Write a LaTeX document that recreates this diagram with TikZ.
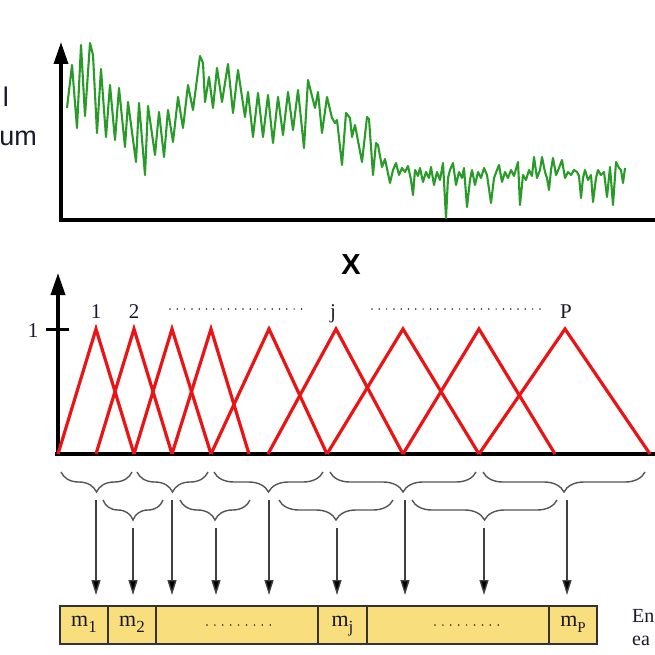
\documentclass[tikz,border=0pt]{standalone}
\usepackage{fontspec}
\setmainfont{Liberation Serif}
\newfontfamily\arialfont{Liberation Sans}
\usetikzlibrary{arrows.meta,decorations.pathreplacing}
\definecolor{sig}{RGB}{40,155,40}
\definecolor{mfred}{RGB}{235,20,20}
\definecolor{cellfill}{RGB}{248,222,125}
\definecolor{bracegray}{RGB}{85,85,85}
\definecolor{txtdark}{RGB}{25,25,45}
\begin{document}
\begin{tikzpicture}[x=1pt,y=-1pt,
 axis/.style={line width=3.5pt, black},
 axisarrow/.style={axis, -{Triangle[length=22pt,width=14pt]}},
 signal/.style={sig, line width=2.1pt, line join=round},
 tri/.style={mfred, line width=3.2pt},
 bracestyle/.style={bracegray, line width=1.4pt, decorate, decoration={brace, mirror, amplitude=20pt}},
 arr/.style={draw=black!75, line width=1.4pt, -{Triangle[length=15pt,width=9pt,fill=black]}},
 cell/.style={draw=black!80, line width=1.4pt, fill=cellfill, minimum height=38pt, inner sep=0pt, text height=12pt, text depth=10pt, font=\fontsize{22}{22}\selectfont, text=txtdark},
 dotsline/.style={black!85, line width=1.7pt, line cap=round, dash pattern=on 0pt off 7.3pt},
 boxdots/.style={black!85, line width=1.7pt, line cap=round, dash pattern=on 0pt off 7.9pt},
 lab/.style={font=\fontsize{21}{21}\selectfont, text=txtdark, inner sep=0pt, anchor=base},
 sidelab/.style={font=\arialfont\fontsize{27}{27}\selectfont, text=txtdark, inner sep=0pt, anchor=base east},
 cutlab/.style={font=\fontsize{20}{20}\selectfont, text=txtdark, inner sep=0pt, anchor=base west}
]
\useasboundingbox (0,0) rectangle (655,655);

% ---------- top plot ----------
\coordinate (o1) at (61,222);
\coordinate (t1) at (61,42);
\coordinate (r1) at (655,220);
\coordinate (l1) at (59,220);
\draw[axisarrow] (o1) -- (t1);
\draw[axis] (l1) -- (r1);

\draw[signal] (67,108) -- (72,65) -- (77,128) -- (81,45) -- (85,116) -- (90,43) -- (93,55) -- (97,133) -- (101,69) -- (106,137) -- (110,85) -- (115,140) -- (119,88) -- (125,147) -- (128,102) -- (136,162) -- (139,103) -- (145,175) -- (148,106) -- (155,155) -- (159,112) -- (164,157) -- (168,110) -- (173,142) -- (178,97) -- (183,128) -- (188,85) -- (193,110) -- (200,56) -- (203,63) -- (205,102) -- (209,77) -- (213,108) -- (217,68) -- (222,102) -- (228,64) -- (233,113) -- (238,70) -- (245,117) -- (248,92) -- (253,137) -- (258,93) -- (263,137) -- (268,95) -- (273,143) -- (278,97) -- (283,135) -- (288,92) -- (293,130) -- (298,90) -- (304,148) -- (308,80) -- (315,108) -- (318,92) -- (322,133) -- (327,97) -- (332,118) -- (335,123) -- (337,120) -- (342,165) -- (346,113) -- (350,118) -- (352,137) -- (355,125) -- (362,162) -- (367,117) -- (369,119) -- (373,175) -- (376,143) -- (378,145) -- (382,167) -- (385,159) -- (390,183) -- (393,170) -- (396,163) -- (399,175) -- (402,168) -- (405,172) -- (408,166) -- (411,180) -- (413,195) -- (415,170) -- (418,176) -- (420,168) -- (423,182) -- (426,172) -- (429,178) -- (431,167) -- (434,185) -- (437,172) -- (440,180) -- (443,163) -- (446,218) -- (448,178) -- (450,170) -- (453,163) -- (456,185) -- (459,172) -- (462,178) -- (464,168) -- (467,207) -- (470,180) -- (472,170) -- (475,185) -- (478,172) -- (481,178) -- (484,168) -- (487,175) -- (491,203) -- (494,178) -- (497,170) -- (499,165) -- (502,182) -- (505,172) -- (508,178) -- (511,170) -- (514,176) -- (518,162) -- (520,205) -- (523,175) -- (526,180) -- (529,170) -- (532,176) -- (534,157) -- (537,178) -- (540,170) -- (542,157) -- (545,172) -- (547,178) -- (549,190) -- (551,170) -- (553,158) -- (556,175) -- (559,168) -- (562,160) -- (565,178) -- (568,172) -- (571,175) -- (574,170) -- (577,172) -- (579,176) -- (581,198) -- (583,178) -- (585,170) -- (588,180) -- (591,175) -- (593,202) -- (596,178) -- (598,170) -- (601,175) -- (604,172) -- (607,197) -- (610,167) -- (613,205) -- (616,162) -- (619,168) -- (621,170) -- (623,183) -- (625,168);

\node[sidelab] (sl1) at (9,107) {l};
\node[sidelab] (sl2) at (37,146) {um};

\node[font=\arialfont\bfseries\fontsize{29}{29}\selectfont, inner sep=0pt, anchor=base] (xlab) at (351,274) {X};

% ---------- membership functions ----------
\coordinate (o2) at (58,456);
\coordinate (t2) at (58,273);
\coordinate (l2) at (55,454);
\coordinate (r2) at (655,454);
\coordinate (tk1) at (46,329);
\coordinate (tk2) at (69,329);
\draw[axisarrow] (o2) -- (t2);
\draw[axis] (l2) -- (r2);
\draw[axis, line width=3pt] (tk1) -- (tk2);
\node[lab] (one) at (33,337) {1};

\foreach \l/\p/\r in {58/96/134, 96/134/172, 134/172/211, 172/211/249, 211/269/327, 268/336/403, 327/403/479, 403/479/555, 479/565/650}
  \draw[tri] (\l,454) -- (\p,329) -- (\r,454);

\node[lab] (n1) at (96,318) {1};
\node[lab] (n2) at (134,318) {2};
\node[lab] (nj) at (333,318) {j};
\node[lab] (nP) at (566,318) {P};
\draw[dotsline] (170,309) -- (302,309);
\draw[dotsline] (372,309) -- (543,309);

% ---------- braces ----------
\foreach \a/\b in {61/132, 137/208, 214/323, 330/476, 483/645}
  \draw[bracestyle] (\a,472) -- (\b,472);
\foreach \a/\b in {103/163, 180/250, 279/393, 412/557}
  \draw[bracestyle] (\a,500) -- (\b,500);

% ---------- cells ----------
\node[cell, minimum width=48pt] (c1) at (84,625) {m\raisebox{-6pt}{\fontsize{17}{17}\selectfont 1}};
\node[cell, minimum width=48pt] (c2) at (132,625) {m\raisebox{-6pt}{\fontsize{17}{17}\selectfont 2}};
\node[cell, minimum width=162pt] (c3) at (237,625) {};
\node[cell, minimum width=49pt] (c4) at (342.5,625) {m\raisebox{-6pt}{\fontsize{17}{17}\selectfont j}};
\node[cell, minimum width=182pt] (c5) at (458,625) {};
\node[cell, minimum width=48pt] (c6) at (573,625) {m\raisebox{-6pt}{\fontsize{15}{15}\selectfont P}};
\draw[boxdots] ([xshift=-30pt]c3.center) -- ([xshift=34pt]c3.center);
\draw[boxdots] ([xshift=-23pt]c5.center) -- ([xshift=42pt]c5.center);

% ---------- arrows ----------
\foreach \i/\x/\y in {1/96/500, 2/133/528, 3/172/500, 4/216/528, 5/269/500, 6/337/528, 7/405/500, 8/484/528, 9/567/500} {
  \coordinate (s\i) at (\x,\y);
  \coordinate (e\i) at (\x,595);
  \draw[arr] (s\i) -- (e\i);
}

\node[cutlab] (en) at (632,622) {En};
\node[cutlab] (ea) at (632,645) {ea};
\end{tikzpicture}
\end{document}
